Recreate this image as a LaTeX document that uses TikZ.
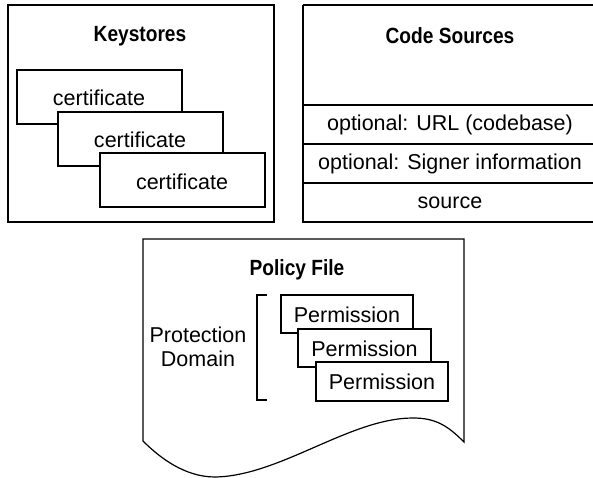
\documentclass[tikz,border=0pt]{standalone}
\usepackage{fontspec}
\setmainfont{Liberation Sans}
\newfontfamily\boldnarrow[FakeStretch=0.87]{Liberation Sans}
\begin{document}
\begin{tikzpicture}[x=1pt,y=-1pt,
  line width=1.2pt,
  lbl/.style={font=\fontsize{21.5}{24}\selectfont, inner sep=0pt},
  ttl/.style={font=\boldnarrow\bfseries\fontsize{22}{24}\selectfont, inner sep=0pt},
  card/.style={draw, fill=white}]
\useasboundingbox (0,0) rectangle (593,478);
\begin{scope}
\clip (0,0) rectangle (593,478);
% Keystores
\draw (8,5) rectangle (274,222);
\node[ttl] (kst) at (140,36) {Keystores};
\draw[card] (17,70) rectangle (182,124);
\node[lbl] (c1) at (99,98) {certificate};
\draw[card] (58,112) rectangle (223,166);
\node[lbl] (c2) at (140,140) {certificate};
\draw[card] (100,153) rectangle (265,207);
\node[lbl] (c3) at (182,182) {certificate};
% Code Sources
\draw (303,5) -- (596,5) (303,5) -- (303,222) -- (596,222);
\draw (303,105) -- (596,105) (303,144) -- (596,144) (303,183) -- (596,183);
\node[ttl] (cs) at (450,36) {Code Sources};
\node[lbl] (u) at (450,125) {optional: URL (codebase)};
\node[lbl] (s) at (450,164) {optional: Signer information};
\node[lbl] (src) at (450,203) {source};
% Policy file
\draw (143,441) -- (143,239) -- (464,239) -- (464,442)
  .. controls (448,426) and (436,418) .. (413,418)
  .. controls (350,418) and (280,476) .. (215,477)
  .. controls (185,477) and (160,458) .. (143,441) -- cycle;
\node[ttl] (pf) at (297,270) {Policy File};
\node[lbl, align=center] (pd) at (198,347) {Protection\\Domain};
\draw (267,295) -- (257,295) -- (257,400) -- (267,400);
\draw[card] (281,295) rectangle (413,333);
\node[lbl] (p1) at (347,315) {Permission};
\draw[card] (298,329) rectangle (431,367);
\node[lbl] (p2) at (364.5,349) {Permission};
\draw[card] (316,362) rectangle (448,401);
\node[lbl] (p3) at (382,382) {Permission};
\end{scope}
\end{tikzpicture}
\end{document}
